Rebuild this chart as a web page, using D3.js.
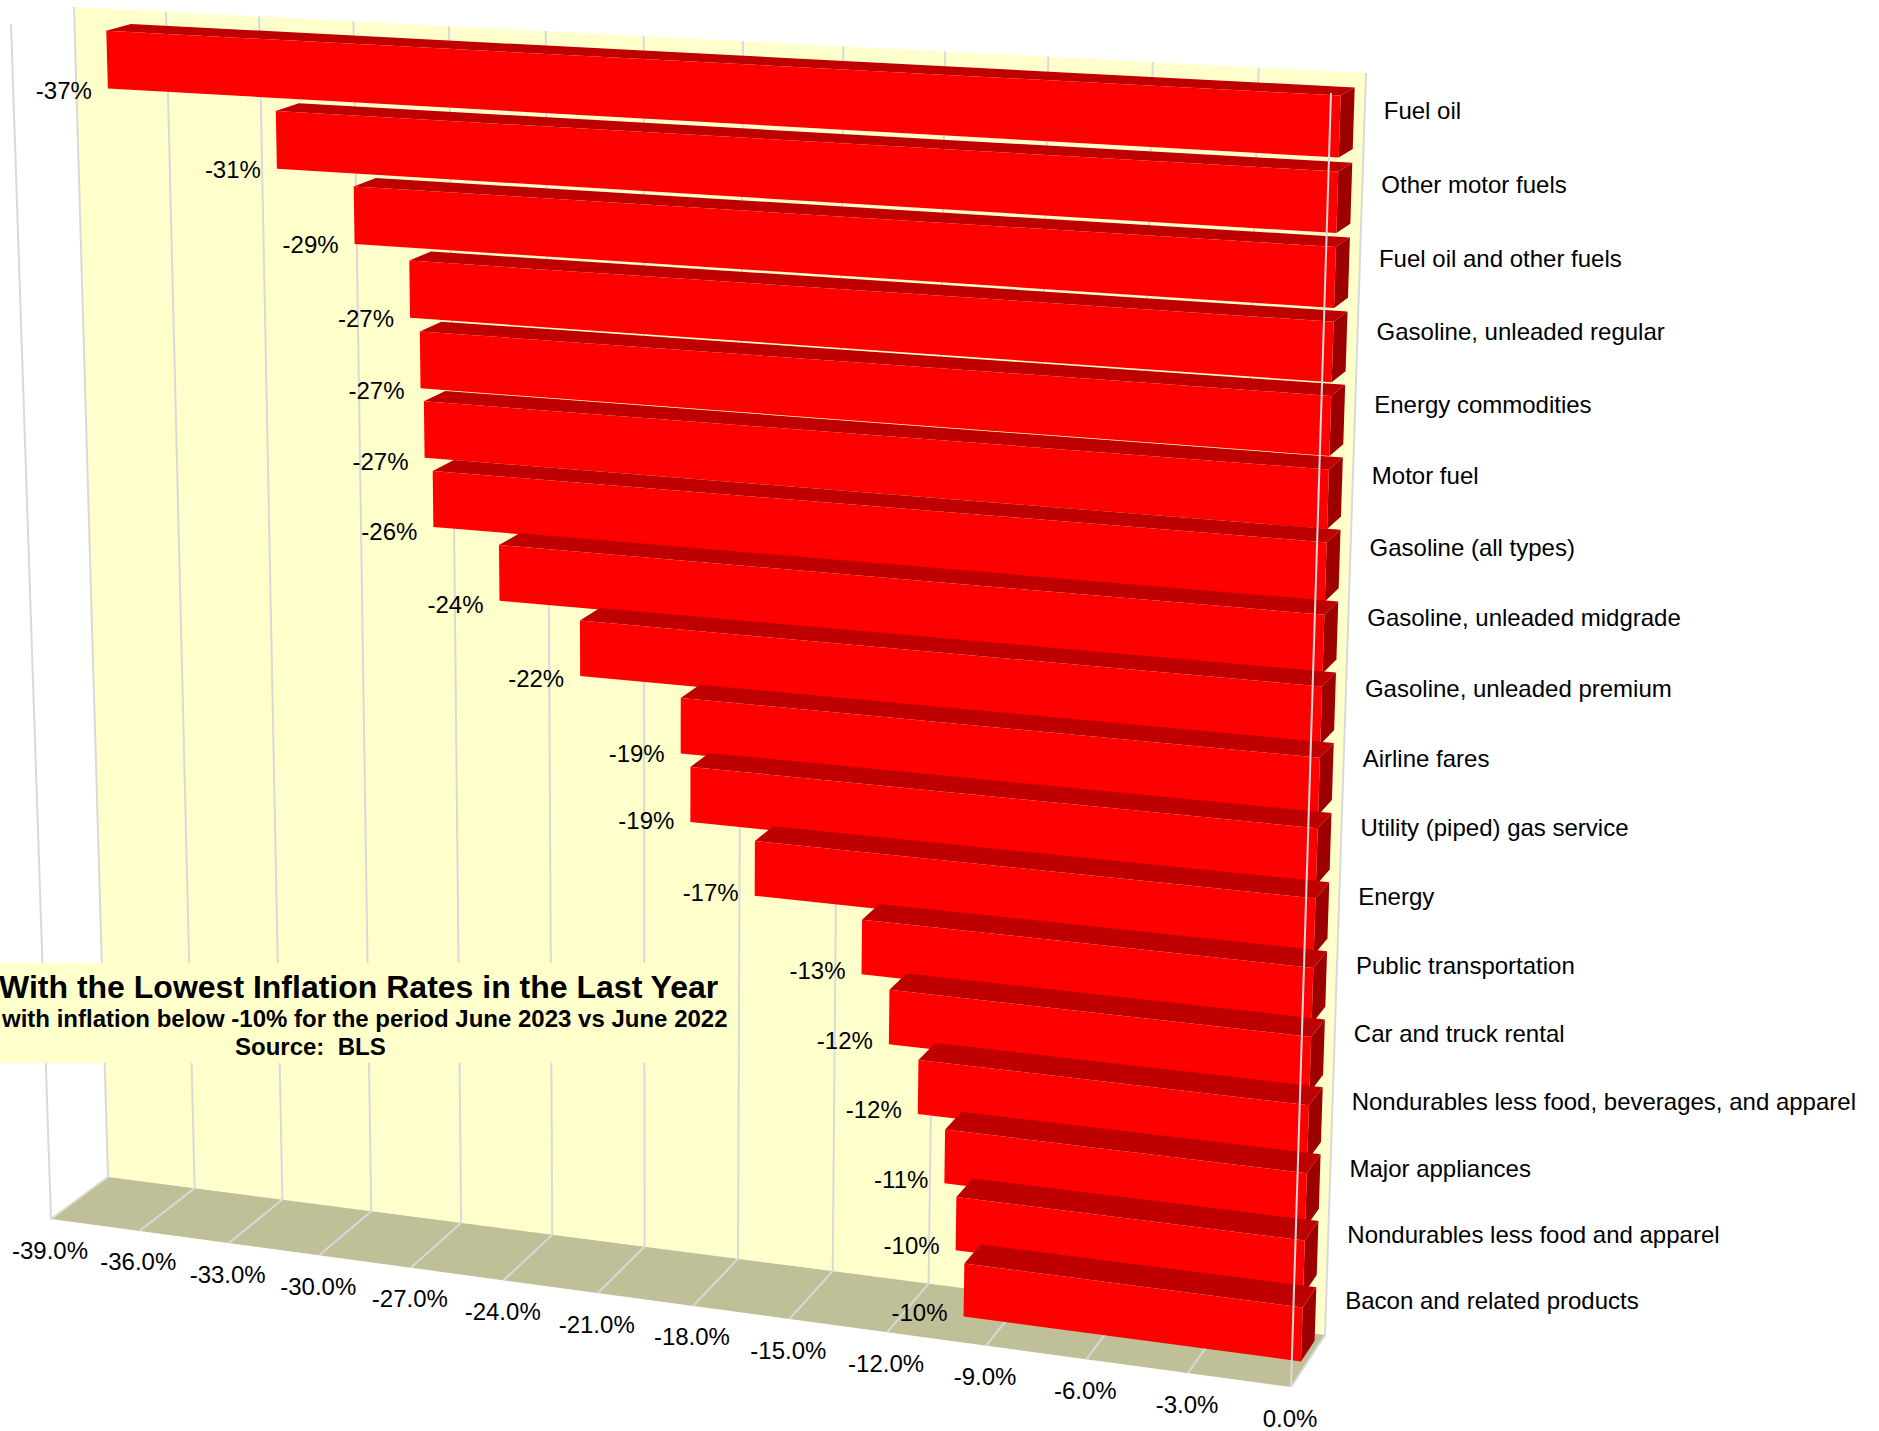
<!DOCTYPE html>
<html>
<head>
<meta charset="utf-8">
<title>Lowest Inflation Rates</title>
<script src="https://cdn.jsdelivr.net/npm/d3@7"></script>
<style>
  html, body { margin: 0; padding: 0; background: #fff; }
  svg { display: block; font-family: "Liberation Sans", Arial, sans-serif; }
  text { white-space: pre; }
</style>
</head>
<body>
<svg id="chart" width="1879" height="1431"></svg>
<script>
const categories = [
  "Fuel oil", "Other motor fuels", "Fuel oil and other fuels", "Gasoline, unleaded regular",
  "Energy commodities", "Motor fuel", "Gasoline (all types)", "Gasoline, unleaded midgrade",
  "Gasoline, unleaded premium", "Airline fares", "Utility (piped) gas service", "Energy",
  "Public transportation", "Car and truck rental", "Nondurables less food, beverages, and apparel",
  "Major appliances", "Nondurables less food and apparel", "Bacon and related products"
];
const inflation = [
  -36.52, -31.2, -28.8, -27.1, -26.8, -26.7, -26.45, -24.4, -21.9,
  -18.8, -18.5, -16.52, -13.25, -12.4, -11.5, -10.67, -10.3, -10.03
];
const xTicks = [-39, -36, -33, -30, -27, -24, -21, -18, -15, -12, -9, -6, -3, 0];
const titleLines = [
  "With the Lowest Inflation Rates in the Last Year",
  "with inflation below -10% for the period June 2023 vs June 2022",
  "Source:  BLS"
];

// The eight screen corners of the chart box: [left/right][bottom/top][back/front]
const box = {
  lbb: [108, 1177], rbb: [1325, 1335], ltb: [74, 7],  rtb: [1366, 73],
  lbf: [51, 1219],  rbf: [1291, 1387], ltf: [11, 24], rtf: [1331, 93]
};
const foreshorten = { x: -0.08, y: -0.07, z: -0.02 };
const persp = (t, k) => t * (1 + k) / (1 + k * t);

// Unit coordinates: u along the value axis, v up the wall, d from wall toward the viewer
function project(u, v, d) {
  const a = persp(u, foreshorten.x), b = persp(v, foreshorten.y), c = persp(d, foreshorten.z);
  const mix = (p, q, t) => [p[0] + (q[0] - p[0]) * t, p[1] + (q[1] - p[1]) * t];
  const back = mix(mix(box.lbb, box.rbb, a), mix(box.ltb, box.rtb, a), b);
  const front = mix(mix(box.lbf, box.rbf, a), mix(box.ltf, box.rtf, a), b);
  return mix(back, front, c);
}

const x = d3.scaleLinear().domain([-39, 0]).range([0, 1]);
const y = d3.scaleBand().domain(categories).range([0.994, 0.009]).paddingInner(0.185).paddingOuter(0);
const depth = { back: 0.32, front: 0.72 };
const valueLabelShift = d3.scaleLinear().domain([1, 0.8, 0.6, 0.3, 0]).range([2, 0.5, 5, -4, -4.5]);
const nameLabelShift = d3.scaleLinear().domain([1, 0.5, 0]).range([-1, -2, 3]);
const hyphenFormat = d3.formatLocale({ decimal: ".", thousands: ",", grouping: [3], currency: ["$", ""], minus: "-" });
const pct0 = hyphenFormat.format(".0f");
const pct1 = hyphenFormat.format(".1f");

const svg = d3.select("#chart");
const path = pts => "M" + pts.map(p => p.join(",")).join("L") + "Z";
const segment = d3.line();
const GRID = "#d9d9d9";

// Back wall and floor
svg.append("path").attr("d", path([project(0,0,0), project(1,0,0), project(1,1,0), project(0,1,0)])).attr("fill", "#ffffcc");
svg.append("path").attr("d", path([project(0,0,0), project(1,0,0), project(1,0,1), project(0,0,1)])).attr("fill", "#c0c098");

// Gridlines on the wall and across the floor
svg.append("g").selectAll("path").data(xTicks).join("path")
  .attr("d", t => segment([project(x(t),1,0), project(x(t),0,0), project(x(t),0,1)]))
  .attr("fill", "none").attr("stroke", GRID).attr("stroke-width", 2);

// Left front upright
svg.append("path").attr("d", segment([project(0,1,1), project(0,0,1)]))
  .attr("fill", "none").attr("stroke", GRID).attr("stroke-width", 2);

// Bars, each a box with front, top and end faces
const rows = categories.map((name, i) => ({ name, value: inflation[i] }));
const bars = svg.append("g").selectAll("g").data(rows).join("g");
const vBot = d => y(d.name);
const vTop = d => y(d.name) + y.bandwidth();
const vMid = d => y(d.name) + y.bandwidth() / 2;
bars.append("path").attr("fill", "#bf0000").attr("d", d => path([
  project(x(d.value), vTop(d), depth.front), project(x(d.value), vTop(d), depth.back),
  project(1, vTop(d), depth.back), project(1, vTop(d), depth.front)]));
bars.append("path").attr("fill", "#9c0000").attr("d", d => path([
  project(1, vTop(d), depth.front), project(1, vTop(d), depth.back),
  project(1, vBot(d), depth.back), project(1, vBot(d), depth.front)]));
bars.append("path").attr("fill", "#ff0000").attr("d", d => path([
  project(x(d.value), vTop(d), depth.front), project(1, vTop(d), depth.front),
  project(1, vBot(d), depth.front), project(x(d.value), vBot(d), depth.front)]));

// Right front upright passes in front of the bars
svg.append("path").attr("d", segment([project(1,1,1), project(1,0,1)]))
  .attr("fill", "none").attr("stroke", GRID).attr("stroke-width", 2);

const FS = 24;
// Value labels
svg.append("g").selectAll("text").data(rows).join("text")
  .attr("text-anchor", "end").attr("dominant-baseline", "central").attr("font-size", FS)
  .attr("x", d => project(x(d.value), vBot(d), depth.front)[0] - 16)
  .attr("y", d => project(x(d.value), vBot(d), depth.front)[1] + valueLabelShift(vBot(d)))
  .text(d => pct0(d.value) + "%");

// Category labels beside the wall
svg.append("g").selectAll("text").data(rows).join("text")
  .attr("dominant-baseline", "central").attr("font-size", FS)
  .attr("x", d => project(1, vMid(d), 0)[0] + 19)
  .attr("y", d => project(1, vMid(d), 0)[1] + nameLabelShift(vMid(d)))
  .text(d => d.name);

// Value axis labels under the floor's front edge
svg.append("g").selectAll("text").data(xTicks).join("text")
  .attr("text-anchor", "middle").attr("dominant-baseline", "central").attr("font-size", FS)
  .attr("x", t => project(x(t), 0, 1)[0] - 1)
  .attr("y", t => project(x(t), 0, 1)[1] + 31)
  .text(t => pct1(t) + "%");

// Title panel
svg.append("rect").attr("x", 0).attr("y", 963).attr("width", 735).attr("height", 100).attr("fill", "#ffffcc");
svg.append("text").attr("x", -1).attr("y", 987).attr("dominant-baseline", "central")
  .attr("font-size", 32).attr("font-weight", "bold").text(titleLines[0]);
svg.append("text").attr("x", 2).attr("y", 1018).attr("dominant-baseline", "central")
  .attr("font-size", 24).attr("font-weight", "bold").text(titleLines[1]);
svg.append("text").attr("x", 235).attr("y", 1046).attr("dominant-baseline", "central")
  .attr("font-size", 24).attr("font-weight", "bold").text(titleLines[2]);
</script>
</body>
</html>
